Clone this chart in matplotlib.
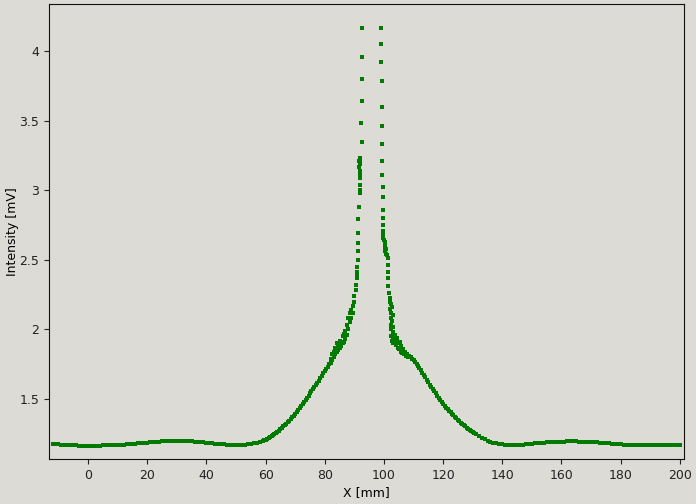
import matplotlib
matplotlib.use("Agg")
import matplotlib.pyplot as plt

# ---- smooth profile (band) ----
band_x_left = list(range(-12, 60))
band_y_left = [1.175, 1.175, 1.174, 1.173, 1.172, 1.170, 1.168, 1.167, 1.166, 1.165,
               1.164, 1.164, 1.164, 1.164, 1.165, 1.165, 1.165, 1.166, 1.166, 1.166,
               1.167, 1.167, 1.168, 1.170, 1.172, 1.174, 1.176, 1.178, 1.180, 1.182,
               1.184, 1.185, 1.186, 1.188, 1.190, 1.192, 1.194, 1.195, 1.196, 1.197,
               1.198, 1.198, 1.199, 1.199, 1.199, 1.198, 1.197, 1.196, 1.194, 1.192,
               1.190, 1.188, 1.186, 1.184, 1.182, 1.180, 1.178, 1.176, 1.174, 1.172,
               1.171, 1.170, 1.170, 1.170, 1.171, 1.172, 1.174, 1.177, 1.181, 1.186,
               1.192, 1.199]

rise_x = [59.5, 60, 60.5, 61, 61.5, 62, 62.5, 63, 63.5, 64, 64.5, 65, 65.5, 66, 66.5,
          67, 67.5, 68, 68.5, 69, 69.5, 70, 70.5, 71, 71.5, 72, 72.5, 73, 73.5, 74,
          74.5, 75, 75.5, 76, 76.5, 77, 77.5, 78, 78.5, 79, 79.5, 80, 80.5, 81, 81.5]
rise_y = [1.203, 1.207, 1.212, 1.218, 1.224, 1.231, 1.239, 1.247, 1.255, 1.264, 1.273,
          1.283, 1.293, 1.303, 1.313, 1.323, 1.334, 1.345, 1.356, 1.368, 1.380, 1.393,
          1.406, 1.419, 1.433, 1.447, 1.462, 1.477, 1.493, 1.509, 1.524, 1.540, 1.555,
          1.570, 1.585, 1.600, 1.615, 1.632, 1.650, 1.668, 1.685, 1.700, 1.716, 1.732,
          1.748]

jag_x = [82.0, 82.0, 82.5, 82.5, 83.0, 83.0, 83.5, 83.5, 84.0, 84.0, 84.5, 84.5,
         85.0, 85.0, 85.5, 85.5, 86.0, 86.0, 86.5, 86.5, 87.0, 87.0, 87.5, 87.5,
         88.0, 88.0, 88.5, 88.5, 89.0, 89.0, 89.5, 89.5, 90.0, 90.0, 90.4, 90.6]
jag_y = [1.76, 1.79, 1.78, 1.82, 1.80, 1.84, 1.82, 1.87, 1.84, 1.90, 1.85, 1.88,
         1.87, 1.92, 1.88, 1.91, 1.90, 1.95, 1.91, 1.97, 1.93, 1.99, 1.96, 2.03,
         2.00, 2.08, 2.05, 2.12, 2.08, 2.14, 2.12, 2.17, 2.20, 2.24, 2.28, 2.32]

fall_x = [108.5, 109, 109.5, 110, 110.5, 111, 111.5, 112, 112.5, 113, 113.5, 114,
          114.5, 115, 115.5, 116, 116.5, 117, 117.5, 118, 118.5, 119, 119.5, 120,
          120.5, 121, 121.5, 122, 122.5, 123, 123.5, 124, 124.5, 125, 125.5, 126,
          126.5, 127, 127.5, 128, 128.5, 129, 129.5, 130, 130.5]
fall_y = [1.812, 1.800, 1.790, 1.779, 1.768, 1.750, 1.738, 1.722, 1.705, 1.690, 1.676,
          1.660, 1.638, 1.620, 1.598, 1.585, 1.574, 1.560, 1.545, 1.525, 1.508, 1.492,
          1.478, 1.465, 1.452, 1.438, 1.426, 1.415, 1.404, 1.393, 1.382, 1.372, 1.362,
          1.351, 1.341, 1.331, 1.322, 1.313, 1.304, 1.295, 1.287, 1.279, 1.271, 1.263,
          1.256]

band_x_right = list(range(131, 201))
band_y_right = [1.249, 1.235, 1.222, 1.210, 1.200, 1.192, 1.186, 1.181, 1.177, 1.174,
                1.172, 1.170, 1.169, 1.168, 1.169, 1.171, 1.173, 1.176, 1.178, 1.180,
                1.182, 1.184, 1.186, 1.187, 1.188, 1.189, 1.191, 1.192, 1.193, 1.194,
                1.194, 1.195, 1.195, 1.195, 1.195, 1.194, 1.194, 1.193, 1.192, 1.191,
                1.190, 1.188, 1.187, 1.185, 1.183, 1.181, 1.179, 1.177, 1.175, 1.174,
                1.172, 1.171, 1.170, 1.169, 1.168, 1.168, 1.168, 1.168, 1.168, 1.169,
                1.169, 1.169, 1.170, 1.170, 1.170, 1.171, 1.171, 1.171, 1.172, 1.172]

# ---- peak region (sparse points) ----
peak_left_x = [90.9, 90.9, 90.9, 91.0, 91.1, 91.2, 91.3, 91.3, 91.3, 91.6, 91.9, 91.9,
               91.9, 91.9, 91.9, 91.9, 91.9, 91.9, 91.6, 91.8, 91.7, 91.8, 92.0, 92.5,
               92.3, 92.5, 92.6, 92.6, 92.6]
peak_left_y = [2.37, 2.39, 2.41, 2.45, 2.50, 2.56, 2.62, 2.69, 2.79, 2.88, 2.98, 2.99,
               3.00, 3.04, 3.09, 3.10, 3.11, 3.14, 3.17, 3.19, 3.21, 3.23, 3.20, 3.35,
               3.48, 3.64, 3.80, 3.96, 4.165]

peak_right_x = [99.05, 99.05, 99.05, 99.4, 99.4, 99.4, 99.4, 99.4, 99.4, 99.7, 99.7,
                99.7, 99.7, 99.7, 99.7, 99.7, 99.8, 100.0, 100.2, 100.4, 100.3, 100.6,
                100.5, 100.8, 101.0, 100.2, 101.4, 101.45, 101.45, 101.45, 101.5, 101.8,
                102.0, 102.0, 102.5, 102.2, 102.8, 102.4, 102.9, 102.3, 102.8, 102.5,
                103.0, 102.4, 102.9, 102.5, 103.2, 102.6, 103.0, 103.5, 103.8, 104.0,
                104.2, 104.5, 104.6, 104.9, 105.2, 105.4, 105.6, 105.9, 106.2, 106.5,
                106.8, 107.1, 107.4, 107.8, 108.2]
peak_right_y = [4.165, 4.05, 3.92, 3.785, 3.60, 3.46, 3.33, 3.21, 3.11, 3.02, 2.95,
                2.86, 2.80, 2.75, 2.71, 2.685, 2.655, 2.64, 2.62, 2.60, 2.63, 2.58,
                2.56, 2.545, 2.535, 2.57, 2.51, 2.46, 2.41, 2.37, 2.31, 2.26,
                2.225, 2.20, 2.18, 2.15, 2.16, 2.12, 2.10, 2.08, 2.06, 2.03,
                2.02, 2.00, 1.98, 1.95, 1.94, 1.92, 1.90, 1.93, 1.96, 1.92,
                1.89, 1.94, 1.87, 1.90, 1.86, 1.91, 1.84, 1.88, 1.83, 1.86,
                1.82, 1.84, 1.81, 1.82, 1.80]

x_ticks = [0, 20, 40, 60, 80, 100, 120, 140, 160, 180, 200]
y_ticks = [1.5, 2.0, 2.5, 3.0, 3.5, 4.0]
y_tick_labels = ["1.5", "2", "2.5", "3", "3.5", "4"]

bg = "#dcdbd6"
col = "#007a00"

fig = plt.figure(figsize=(6.96, 5.04), dpi=100, facecolor=bg)
ax = fig.add_axes([49 / 696, 1 - 459 / 504, (684 - 49) / 696, (459 - 4) / 504])
ax.set_facecolor(bg)

band_x = band_x_left + rise_x + jag_x + fall_x + band_x_right
band_y = band_y_left + rise_y + jag_y + fall_y + band_y_right
ax.plot(band_x, band_y, linestyle="none", marker="s", markersize=3.5,
        markeredgewidth=0, color=col)
peak_x = peak_left_x + peak_right_x
peak_y = peak_left_y + peak_right_y
ax.plot(peak_x, peak_y, linestyle="none", marker="s", markersize=2.3,
        markeredgewidth=0, color=col)

ax.set_xlim(-13.2, 201.4)
ax.set_ylim(1.069, 4.338)
ax.set_xticks(x_ticks)
ax.set_xticklabels([str(v) for v in x_ticks])
ax.set_yticks(y_ticks)
ax.set_yticklabels(y_tick_labels)
ax.tick_params(direction="out", length=3.5, width=0.8, labelsize=9,
               colors="#222222", top=False, right=False)
for s in ax.spines.values():
    s.set_linewidth(0.8)
    s.set_color("#111111")

ax.set_xlabel("X [mm]", fontsize=9, labelpad=3)
ax.set_ylabel("Intensity [mV]", fontsize=9)
ax.yaxis.set_label_coords(-0.047, 0.5)

fig.savefig("out.png", dpi=100, facecolor=bg)
